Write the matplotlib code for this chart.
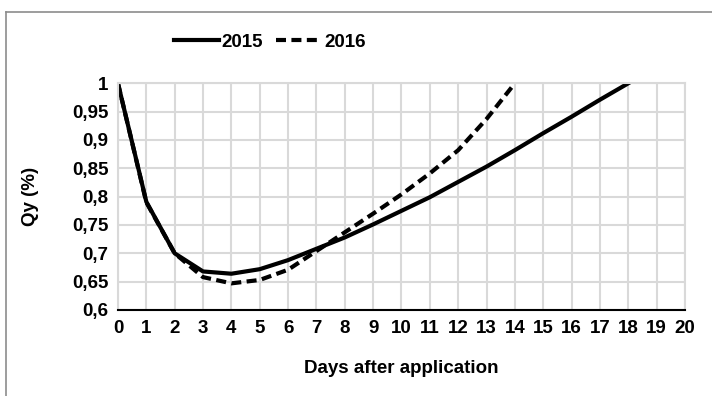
import numpy as np
import matplotlib.pyplot as plt
from matplotlib.lines import Line2D

plt.rcParams['font.family'] = ['Liberation Sans', 'DejaVu Sans']
plt.rcParams['font.weight'] = 'bold'

# data
days_2015 = [0, 1, 2, 3, 4, 5, 6, 7, 8, 9, 10, 11, 12, 13, 14, 15, 16, 17, 18]
qy_2015 = [1.0, 0.791, 0.70, 0.668, 0.664, 0.672, 0.688, 0.708, 0.728, 0.751, 0.775,
           0.799, 0.826, 0.853, 0.882, 0.912, 0.941, 0.971, 1.0]
days_2016 = [0, 1, 2, 3, 4, 5, 6, 7, 8, 9, 10, 11, 12, 13, 14]
qy_2016 = [1.0, 0.79, 0.70, 0.658, 0.647, 0.653, 0.671, 0.704, 0.737, 0.77, 0.804,
           0.841, 0.882, 0.937, 1.0]
yticks = [0.6, 0.65, 0.7, 0.75, 0.8, 0.85, 0.9, 0.95, 1.0]
ytick_labels = ['0,6', '0,65', '0,7', '0,75', '0,8', '0,85', '0,9', '0,95', '1']

fig = plt.figure(figsize=(7.12, 3.96), dpi=100)
ax = fig.add_axes([0.1657, 0.2172, 0.7963, 0.5724])

ax.plot(days_2015, qy_2015, color='black', lw=3.0, label='2015', solid_joinstyle='round')
ax.plot(days_2016, qy_2016, color='black', lw=3.0, ls=(0, (2.4, 1.3)), label='2016')

ax.set_xlim(0, 20)
ax.set_ylim(0.6, 1.0)
ax.set_xticks(range(0, 21))
ax.set_yticks(yticks)
ax.set_yticklabels(ytick_labels)
ax.tick_params(length=0, labelsize=13.5, pad=7)
ax.grid(True, color='#d9d9d9', lw=1.5)
ax.set_axisbelow(True)
for s in ['top', 'right', 'left']:
    ax.spines[s].set_color('#d9d9d9')
    ax.spines[s].set_linewidth(1.5)
ax.spines['bottom'].set_color('#000000')
ax.spines['bottom'].set_linewidth(1.5)

ax.set_xlabel('Days after application', fontsize=13.5, fontweight='bold')
ax.set_ylabel('Qy (%)', fontsize=13.5, fontweight='bold')
ax.xaxis.set_label_coords(0.5, -0.22)
ax.yaxis.set_label_coords(-0.14, 0.5)

ax.legend(loc='center', bbox_to_anchor=(0.379, 0.894), bbox_transform=fig.transFigure,
          ncol=2, frameon=False, fontsize=13.5, handlelength=2.4, handletextpad=0.15,
          columnspacing=0.7)

# chart frame (only top and left edges are inside the picture)
fig.add_artist(Line2D([6 / 712, 6 / 712], [0, 1 - 11.5 / 396], color='#8c8c8c', lw=1.2))
fig.add_artist(Line2D([6 / 712, 1], [1 - 11.5 / 396, 1 - 11.5 / 396], color='#8c8c8c', lw=1.2))

fig.savefig('out.png', dpi=100)
